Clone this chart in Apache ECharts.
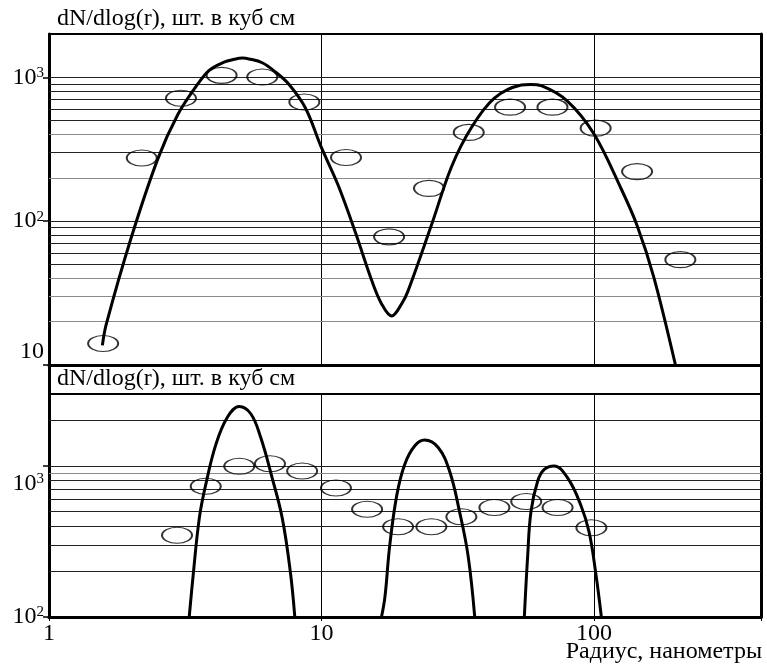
<!DOCTYPE html>
<html><head><meta charset="utf-8">
<script src="https://cdn.jsdelivr.net/npm/echarts@6/dist/echarts.min.js"></script>
<style>html,body{margin:0;padding:0;background:#fff}#c{width:767px;height:667px}</style>
</head><body><div id="c"></div>
<script>
// ---- text ----
const panelTitle = 'dN/dlog(r), шт. в куб см';
const xAxisName = 'Радиус, нанометры';

// ---- axis ranges / tick & gridline values ----
const xRange = [1, 410];
const topYRange = [10, 2000];
const bottomYRange = [100, 3000];
const topYTicks = [10, 100, 1000];
const bottomYTicks = [100, 1000];
const topGridDark = [50, 60, 70, 80, 90, 100, 300, 500, 600, 700, 800, 900, 1000];
const topGridLight = [20, 30, 40, 200, 400];
const bottomGridDark = [200, 300, 400, 500, 600, 700, 800, 1000, 2000];
const bottomGridLight = [900];

// ---- top panel data ----
const topPointsX = [1.58, 2.19, 3.05, 4.30, 6.06, 8.65, 12.3, 17.7, 24.8, 34.7, 49.2, 70.4, 101.4, 143.9, 207.4];
const topPointsY = [14.1, 275, 716, 1032, 1006, 673, 277, 77.8, 169, 414, 620, 620, 443, 221, 54];
const topCurveX = [1.57, 1.62, 2.0, 2.51, 2.97, 3.46, 3.87, 4.33, 4.84, 5.13, 5.42, 6.06, 6.78, 7.59, 8.73, 9.98, 11.55, 13.3, 15.3, 16.6, 18.1, 19.7, 20.8, 25.3, 30.0, 35.5, 43.1, 54.1, 58.7, 64.0, 80.0, 100, 125.4, 144, 165.6, 199];
const topCurveY = [13.7, 19, 76, 272, 551, 861, 1116, 1262, 1342, 1360, 1342, 1262, 1088, 895, 612, 327, 175, 84, 38.5, 26.7, 21.9, 26.7, 32.9, 93.5, 239, 448, 716, 883, 892, 874, 681, 403, 170, 93, 41, 10];

// ---- bottom panel data ----
const bottomPointsX = [2.95, 3.76, 4.99, 6.47, 8.49, 11.3, 14.7, 19.1, 25.3, 32.6, 43.1, 56.4, 73.5, 97.8];
const bottomPointsY = [348, 734, 996, 1036, 926, 715, 517, 396, 396, 461, 531, 582, 531, 390];
const peak1X = [3.27, 3.37, 3.56, 3.76, 4.10, 4.52, 4.99, 5.50, 5.98, 6.59, 7.18, 7.69, 7.98];
const peak1Y = [100, 178, 450, 753, 1396, 2110, 2480, 2220, 1549, 834, 450, 197, 100];
const peak2X = [16.6, 17.1, 17.8, 18.9, 20.2, 22.0, 23.9, 26.8, 29.5, 32.1, 34.5, 36.5];
const peak2Y = [100, 137, 298, 644, 1025, 1361, 1486, 1327, 926, 499, 255, 100];
const peak3X = [55.5, 57.1, 58.7, 62.1, 65.7, 71.4, 80, 89.4, 95.9, 101.4, 106.4];
const peak3Y = [100, 255, 499, 793, 949, 1000, 834, 552, 366, 197, 100];

const zip = (xs, ys) => xs.map((x, i) => [x, ys[i]]);
const FONT = 'Liberation Serif';

function isPow10(v) {
  const e = Math.round(Math.log10(v));
  return Math.abs(Math.pow(10, e) - v) < 1e-6 * v ? e : null;
}
// labels as in the original: "10" raised a little (top), "10³" lowered (bottom)
function topYLabel(v) {
  const e = isPow10(v);
  if (e === null) return '';
  if (e === 1) return '{up|10}';
  return '10{s|' + e + '}';
}
function bottomYLabel(v) {
  const e = isPow10(v);
  if (e === null) return '';
  if (e === 3) return '{dn|10}{dns|3}';
  return '10{s|' + e + '}';
}
function xLabel(v) {
  const e = isPow10(v);
  return e === null ? '' : String(Math.round(v));
}

const gridLines = (dark, light) => ({
  silent: true, symbol: 'none', z: 1,
  label: { show: false },
  emphasis: { disabled: true },
  data: dark.map(v => ({ yAxis: v, lineStyle: { color: '#222', width: 1, type: 'solid' } }))
    .concat(light.map(v => ({ yAxis: v, lineStyle: { color: '#8a8a8a', width: 1, type: 'solid' } })))
});

const richStyles = {
  s: { fontFamily: FONT, fontSize: 15, verticalAlign: 'top', color: '#000' },
  up: { fontFamily: FONT, fontSize: 24, color: '#000', padding: [0, 0, 26, 0] },
  dn: { fontFamily: FONT, fontSize: 24, color: '#000', padding: [36, 0, 0, 0] },
  dns: { fontFamily: FONT, fontSize: 15, color: '#000', verticalAlign: 'top', padding: [36, 0, 0, 0] }
};
const yLabelStyle = fmt => ({
  fontFamily: FONT, fontSize: 24, color: '#000', margin: 5,
  formatter: fmt, rich: richStyles
});
const titleStyle = { fontFamily: FONT, fontSize: 24, fontWeight: 'normal', color: '#000' };

const chart = echarts.init(document.getElementById('c'), null, { renderer: 'canvas' });
chart.setOption({
  animation: false,
  backgroundColor: '#fff',
  title: [
    { text: panelTitle, left: 57, top: 7, padding: 0, textStyle: titleStyle },
    { text: panelTitle, left: 57, top: 367, padding: 0, textStyle: titleStyle },
    { text: xAxisName, right: 5, top: 640, padding: 0, textStyle: titleStyle }
  ],
  grid: [
    { left: 49, right: 6, top: 34, height: 331, show: true, borderColor: '#000', borderWidth: 2 },
    { left: 49, right: 6, top: 394, height: 223, show: true, borderColor: '#000', borderWidth: 2 },
    { left: 49, right: 6, top: 365, height: 29, show: true, borderColor: '#000', borderWidth: 2 }
  ],
  xAxis: [
    { gridIndex: 0, type: 'log', logBase: 10, min: xRange[0], max: xRange[1],
      axisLine: { lineStyle: { color: '#000', width: 3 } },
      axisTick: { show: false }, axisLabel: { show: false },
      splitLine: { show: true, lineStyle: { color: '#000', width: 1 } } },
    { gridIndex: 1, type: 'log', logBase: 10, min: xRange[0], max: xRange[1],
      axisLine: { lineStyle: { color: '#000', width: 3 } },
      axisTick: { show: true, length: 4, lineStyle: { color: '#000', width: 1 } },
      axisLabel: { fontFamily: FONT, fontSize: 24, color: '#000', margin: 5, formatter: xLabel },
      splitLine: { show: true, lineStyle: { color: '#000', width: 1 } } },
    { gridIndex: 2, type: 'value', min: 0, max: 1, show: false }
  ],
  yAxis: [
    { gridIndex: 0, type: 'log', logBase: 10, min: topYRange[0], max: topYRange[1],
      axisLine: { show: true, lineStyle: { color: '#000', width: 3 } },
      axisTick: { show: true, length: 6, customValues: topYTicks, lineStyle: { color: '#000', width: 1.5 } },
      axisLabel: yLabelStyle(topYLabel), splitLine: { show: false } },
    { gridIndex: 1, type: 'log', logBase: 10, min: bottomYRange[0], max: bottomYRange[1],
      axisLine: { show: true, lineStyle: { color: '#000', width: 3 } },
      axisTick: { show: true, length: 6, customValues: bottomYTicks, lineStyle: { color: '#000', width: 1.5 } },
      axisLabel: yLabelStyle(bottomYLabel), splitLine: { show: false } },
    { gridIndex: 0, type: 'value', position: 'right', min: 0, max: 1,
      axisLine: { show: true, lineStyle: { color: '#000', width: 3 } },
      axisTick: { show: false }, axisLabel: { show: false }, splitLine: { show: false } },
    { gridIndex: 1, type: 'value', position: 'right', min: 0, max: 1,
      axisLine: { show: true, lineStyle: { color: '#000', width: 3 } },
      axisTick: { show: false }, axisLabel: { show: false }, splitLine: { show: false } },
    { gridIndex: 2, type: 'value', position: 'left', min: 0, max: 1,
      axisLine: { show: true, lineStyle: { color: '#000', width: 3 } },
      axisTick: { show: false }, axisLabel: { show: false }, splitLine: { show: false } },
    { gridIndex: 2, type: 'value', position: 'right', min: 0, max: 1,
      axisLine: { show: true, lineStyle: { color: '#000', width: 3 } },
      axisTick: { show: false }, axisLabel: { show: false }, splitLine: { show: false } }
  ],
  series: [
    { type: 'line', xAxisIndex: 0, yAxisIndex: 0, data: [], markLine: gridLines(topGridDark, topGridLight) },
    { type: 'line', xAxisIndex: 1, yAxisIndex: 1, data: [], markLine: gridLines(bottomGridDark, bottomGridLight) },
    { type: 'line', xAxisIndex: 0, yAxisIndex: 0, data: zip(topCurveX, topCurveY), smooth: 0.35,
      showSymbol: false, symbol: 'none', z: 3, lineStyle: { color: '#000', width: 3 } },
    { type: 'scatter', xAxisIndex: 0, yAxisIndex: 0, data: zip(topPointsX, topPointsY), symbol: 'circle',
      symbolSize: [30, 16], z: 4, itemStyle: { color: 'rgba(0,0,0,0)', borderColor: '#000', borderWidth: 1.5 } },
    { type: 'line', xAxisIndex: 1, yAxisIndex: 1, data: zip(peak1X, peak1Y), smooth: 0.4,
      showSymbol: false, symbol: 'none', z: 3, lineStyle: { color: '#000', width: 3 } },
    { type: 'line', xAxisIndex: 1, yAxisIndex: 1, data: zip(peak2X, peak2Y), smooth: 0.4,
      showSymbol: false, symbol: 'none', z: 3, lineStyle: { color: '#000', width: 3 } },
    { type: 'line', xAxisIndex: 1, yAxisIndex: 1, data: zip(peak3X, peak3Y), smooth: 0.4,
      showSymbol: false, symbol: 'none', z: 3, lineStyle: { color: '#000', width: 3 } },
    { type: 'scatter', xAxisIndex: 1, yAxisIndex: 1, data: zip(bottomPointsX, bottomPointsY), symbol: 'circle',
      symbolSize: [30, 16], z: 4, itemStyle: { color: 'rgba(0,0,0,0)', borderColor: '#000', borderWidth: 1.5 } }
  ]
});
</script>
</body></html>
